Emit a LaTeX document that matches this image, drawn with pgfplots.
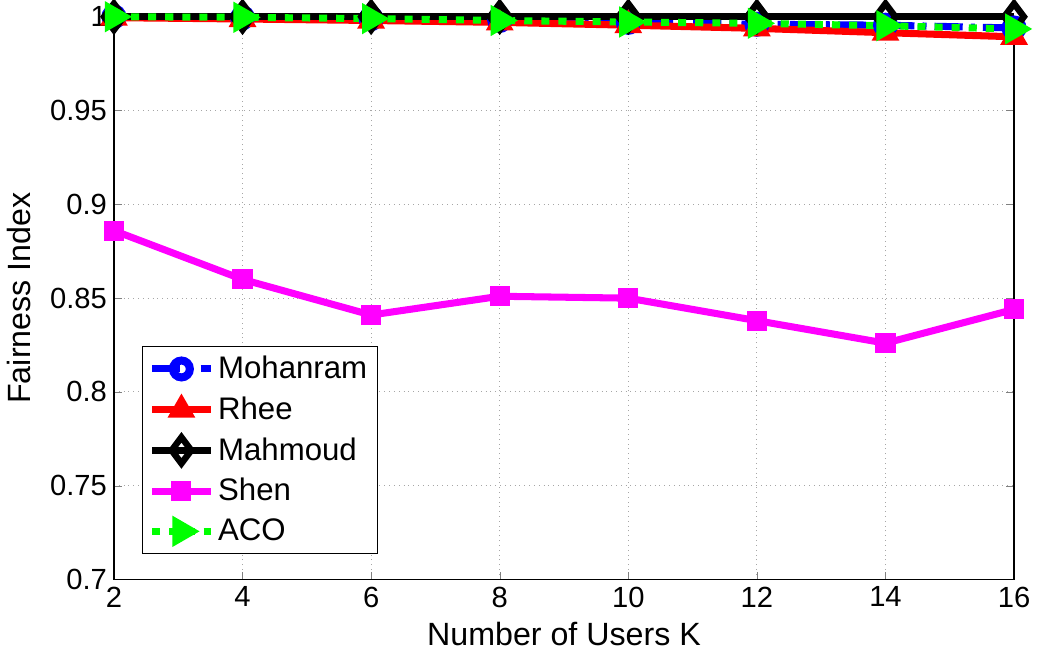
\documentclass[border=0pt]{standalone}
\usepackage{fontspec}
\setmainfont{Liberation Sans}
\usepackage{pgfplots}
\pgfplotsset{compat=1.18}
\definecolor{mblue}{RGB}{0,0,255}
\definecolor{mred}{RGB}{255,0,0}
\definecolor{mmag}{RGB}{255,0,255}
\definecolor{mgreen}{RGB}{0,255,0}
\begin{document}
\begin{tikzpicture}
\begin{axis}[
  scale only axis,
  width=447.5pt, height=279.8pt,
  xmin=2, xmax=16, ymin=0.7, ymax=1,
  xtick={2,4,6,8,10,12,14,16},
  ytick={0.7,0.75,0.8,0.85,0.9,0.95,1},
  yticklabels={0.7,0.75,0.8,0.85,0.9,0.95,1},
  tick align=inside,
  major tick length=4pt,
  grid=major,
  grid style={dotted, gray!70, line width=0.5pt},
  axis line style={line width=0.6pt},
  clip=false,
  font=\fontsize{16}{19}\selectfont,
  tick label style={font=\fontsize{14.5}{17}\selectfont},
  /pgf/number format/assume math mode=true,
  xlabel={Number of Users K},
  ylabel={Fairness Index},
  xlabel style={at={(axis description cs:0.5,-0.096)}, anchor=center},
  ylabel style={at={(axis description cs:-0.106,0.5)}, anchor=center},
  legend image code/.code={%
    \draw[mark repeat=2, mark phase=2]
      plot coordinates {(0pt,0pt) (14.5pt,0pt) (29pt,0pt)};},
  legend style={
    at={(0.0313,0.0447)}, anchor=south west,
    draw=black, line width=0.6pt,
    font=\fontsize{15.5}{18}\selectfont,
    inner xsep=3pt, inner ysep=3pt,
    row sep=3.5pt,
    cells={anchor=west},
  },
]
% Mohanram
\addplot[mblue, line width=3.5pt, dash pattern=on 14pt off 4pt on 2pt off 4pt,
  mark=o, mark size=4.2pt, mark options={solid, line width=4pt, fill=white}]
  coordinates {(2,1.0) (4,0.9995) (6,0.999) (8,0.998) (10,0.997) (12,0.996) (14,0.9955) (16,0.994)};
\addlegendentry{Mohanram}
% Rhee
\addplot[mred, line width=3.5pt,
  mark=triangle*, mark size=7pt, mark options={solid, line width=1pt}]
  coordinates {(2,0.9995) (4,0.9988) (6,0.998) (8,0.997) (10,0.9955) (12,0.9938) (14,0.9915) (16,0.9893)};
\addlegendentry{Rhee}
% Mahmoud
\addplot[black, line width=3.5pt,
  mark=diamond, mark size=6.5pt, mark options={solid, line width=3.2pt, fill=white}]
  coordinates {(2,1.0) (4,1.0) (6,1.0) (8,1.0) (10,1.0) (12,1.0) (14,1.0) (16,1.0)};
\addlegendentry{Mahmoud}
% Shen
\addplot[mmag, line width=3.5pt,
  mark=square*, mark size=4.5pt, mark options={solid, line width=1pt}]
  coordinates {(2,0.886) (4,0.860) (6,0.841) (8,0.851) (10,0.850) (12,0.838) (14,0.826) (16,0.844)};
\addlegendentry{Shen}
% ACO
\addplot[mgreen, line width=3.5pt, dash pattern=on 4pt off 4.5pt,
  mark=triangle*, mark size=8pt, mark options={solid, rotate=-90, line width=1pt}]
  coordinates {(2,1.0) (4,0.9997) (6,0.999) (8,0.998) (10,0.9972) (12,0.9965) (14,0.9952) (16,0.9935)};
\addlegendentry{ACO}
\end{axis}
\end{tikzpicture}
\end{document}
